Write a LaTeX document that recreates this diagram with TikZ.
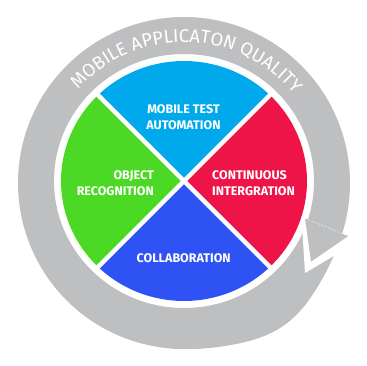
\documentclass[tikz,border=0pt]{standalone}
\usepackage{fontspec}
\setmainfont{Fira Sans}
\usepackage{tikz}
\usetikzlibrary{decorations.text}
\definecolor{ringgray}{RGB}{190,191,193}
\definecolor{autoblue}{RGB}{0,168,236}
\definecolor{integred}{RGB}{238,20,72}
\definecolor{objgreen}{RGB}{76,217,38}
\definecolor{collabblue}{RGB}{47,82,245}
\newcommand{\ringfont}{\fontsize{18.5}{20}\selectfont}

\begin{document}
\begin{tikzpicture}[x=1pt, y=1pt, wedgelabel/.style={text=white, font=\bfseries\fontsize{12.5}{16}\selectfont, inner sep=0pt}]
  \useasboundingbox (0,0) rectangle (367,365);
  \coordinate (ringc) at (184,182);
  \coordinate (piec) at (184,184);

  \fill[ringgray, even odd rule] plot[domain=0:360, samples=241, variable=\t] ({184+(166+8*exp(-min(((\t-305)/18)^2,9)))*cos(\t)}, {182+(166+8*exp(-min(((\t-305)/18)^2,9)))*sin(\t)}) -- cycle (piec) ellipse[x radius=130, y radius=127];

  \fill[autoblue] (piec) -- ++(45:123 and 120) arc[start angle=45, end angle=135, x radius=123, y radius=120] -- cycle;
  \fill[objgreen] (piec) -- ++(135:123 and 120) arc[start angle=135, end angle=225, x radius=123, y radius=120] -- cycle;
  \fill[collabblue] (piec) -- ++(225:123 and 120) arc[start angle=225, end angle=315, x radius=123, y radius=120] -- cycle;
  \fill[integred] (piec) -- ++(-45:123 and 120) arc[start angle=-45, end angle=45, x radius=123, y radius=120] -- cycle;
  \draw[white, line width=4.5pt] (piec) ++(45:128) -- ++(225:256);
  \draw[white, line width=4.5pt] (piec) ++(135:128) -- ++(-45:256);

  % arrow head sitting in the notch of the tail
  \coordinate (headin) at (305,146.7);
  \coordinate (headout) at (348.3,129);
  \coordinate (headtip) at (311,103.3);
  \fill[white] (301.5,148.5) -- (305,92) -- (355,121.6) -- cycle;
  \fill[ringgray] (headin) -- (headout) -- (headtip) -- cycle;
  \draw[white, opacity=0.7, line width=0.6pt, dash pattern=on 2pt off 1.5pt] (headin) -- (headout);

  \path[decorate, decoration={text along path, text align=center, text color=white, text={|\ringfont|MOBILE APPLICATON QUALITY}}] (ringc) ++(178.8:141) arc[start angle=178.8, end angle=-1.2, radius=141];

  \node[wedgelabel, align=center] (auto) at (183.5,247.5) {MOBILE TEST\\AUTOMATION};
  \node[wedgelabel, align=right, anchor=east] (objrec) at (154,181.5) {OBJECT\\RECOGNITION};
  \node[wedgelabel, align=left, anchor=west] (contint) at (212,181.5) {CONTINUOUS\\INTERGRATION};
  \node[wedgelabel, anchor=base] (collab) at (183.7,103) {COLLABORATION};
\end{tikzpicture}
\end{document}
